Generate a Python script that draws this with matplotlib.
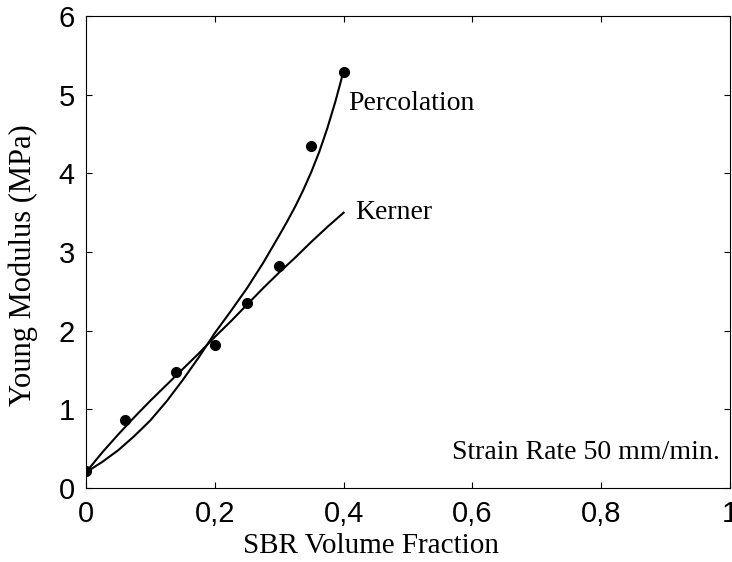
import matplotlib
matplotlib.use("Agg")
import matplotlib.pyplot as plt

# measured points
sbr_frac = [0.0, 0.06, 0.14, 0.20, 0.25, 0.30, 0.35, 0.40]
young_mod = [0.21, 0.86, 1.47, 1.82, 2.35, 2.82, 4.35, 5.29]

# model curves
perc_x = [0.0, 0.025, 0.05, 0.075, 0.1, 0.125, 0.15, 0.175, 0.2,
          0.225, 0.25, 0.275, 0.3, 0.3125, 0.325, 0.3375, 0.35,
          0.3625, 0.375, 0.3875, 0.4]
percolation = [0.20, 0.33, 0.48, 0.66, 0.86, 1.10, 1.37, 1.66, 1.97,
               2.25, 2.54, 2.86, 3.21, 3.39, 3.58, 3.79, 4.02,
               4.28, 4.58, 4.92, 5.30]
kerner_x = [0.0, 0.025, 0.05, 0.075, 0.1, 0.125, 0.15, 0.175, 0.2,
            0.225, 0.25, 0.275, 0.3, 0.325, 0.35, 0.375, 0.4]
kerner = [0.20, 0.45, 0.68, 0.90, 1.11, 1.31, 1.51, 1.71, 1.92,
          2.12, 2.33, 2.54, 2.74, 2.93, 3.13, 3.32, 3.50]

x_ticks = [0, 0.2, 0.4, 0.6, 0.8, 1.0]
x_tick_labels = ["0", "0,2", "0,4", "0,6", "0,8", "1"]
y_ticks = [0, 1, 2, 3, 4, 5, 6]

serif = "Liberation Serif"
sans = "Liberation Sans"

fig = plt.figure(figsize=(7.32, 5.62), dpi=100)
ax = fig.add_axes([86 / 732, 74 / 562, 644 / 732, 472 / 562])

ax.plot(perc_x, percolation, color="black", lw=1.5)
ax.plot(kerner_x, kerner, color="black", lw=1.5)
ax.plot(sbr_frac, young_mod, "o", color="black", ms=7)

ax.text(0.407, 4.89, "Percolation", family=serif, fontsize=20, va="center")
ax.text(0.418, 3.50, "Kerner", family=serif, fontsize=20, va="center")
ax.text(0.984, 0.45, "Strain Rate 50 mm/min.", family=serif, fontsize=20,
        ha="right", va="center")

ax.set_xlim(0, 1)
ax.set_ylim(0, 6)
ax.set_xticks(x_ticks)
ax.set_xticklabels(x_tick_labels)
ax.set_yticks(y_ticks)
ax.tick_params(direction="in", length=4, width=0.8, top=True, right=True,
               labelsize=21)
ax.tick_params(axis="x", pad=9)
ax.tick_params(axis="y", pad=8)
for lbl in ax.get_xticklabels() + ax.get_yticklabels():
    lbl.set_family(sans)
for sp in ax.spines.values():
    sp.set_linewidth(0.8)

ax.set_xlabel("SBR Volume Fraction", family=serif, fontsize=21)
ax.xaxis.set_label_coords(0.443, -0.095)
ax.set_ylabel("Young Modulus (MPa)", family=serif, fontsize=22, va="center")
ax.yaxis.set_label_coords(-0.098, 0.472)

fig.savefig("out.png", dpi=100)
